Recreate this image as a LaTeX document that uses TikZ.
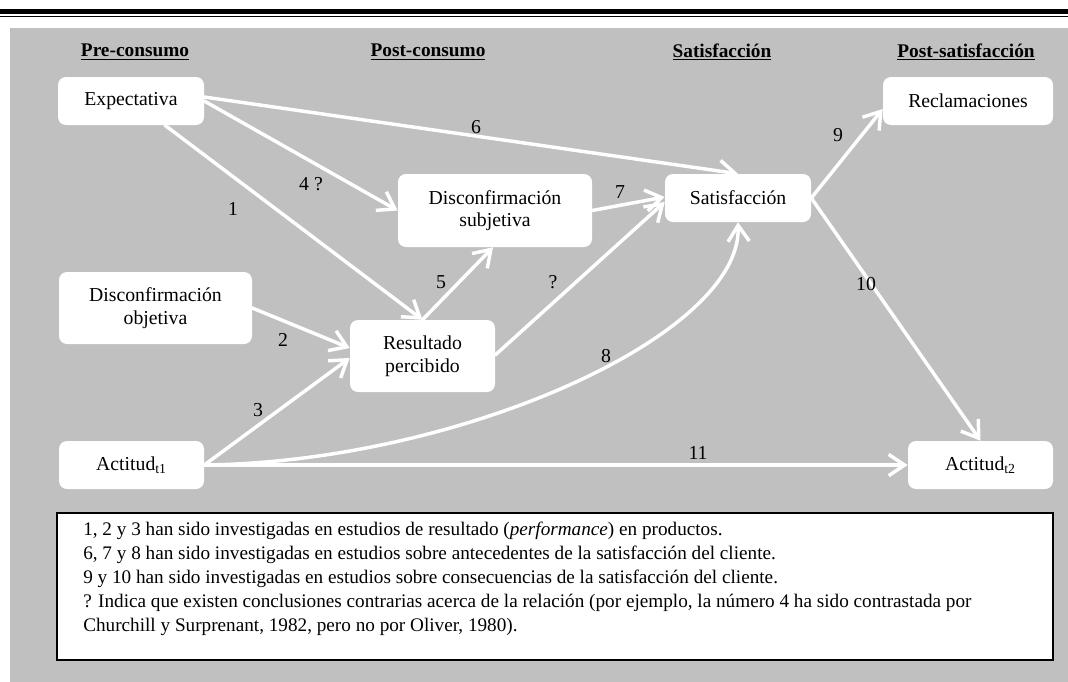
\documentclass[tikz,border=0pt]{standalone}
\usepackage{fontspec}
\setmainfont{Liberation Serif}
\usetikzlibrary{arrows.meta,calc}
\definecolor{panel}{RGB}{192,192,192}
\begin{document}
\begin{tikzpicture}[x=0.75pt,y=-0.75pt,
  box/.style 2 args={draw=none,fill=white,rounded corners=6pt,inner sep=0pt,
    minimum width=#1*0.75pt,minimum height=#2*0.75pt,align=center,
    font=\fontsize{14.8}{17}\selectfont},
  head/.style={font=\fontsize{14.5}{17}\selectfont\bfseries,inner sep=0pt},
  lbl/.style={font=\fontsize{14.8}{17}\selectfont,inner sep=0pt},
  flow/.style={draw=white,line width=2.6pt,line cap=round,
    -{Straight Barb[length=12pt,width=16pt,line width=2.6pt]}}]
% page frame and rules across the top
\useasboundingbox (0,0) rectangle (1068,682);
\fill[black] (0,9) rectangle (1068,14.3);
\fill[black] (0,15.7) rectangle (1068,17.2);
\fill[panel] (10,28) rectangle (1068,682);

% stage headings
\node[head] (h1) at (135,52) {\underline{Pre-consumo}};
\node[head] (h2) at (428,52) {\underline{Post-consumo}};
\node[head] (h3) at (722,52) {\underline{Satisfacción}};
\node[head] (h4) at (966,52) {\underline{Post-satisfacción}};

% constructs
\node[box={146}{48}] (exp)  at (131,101)   {Expectativa};
\node[box={170}{48}] (recl) at (968,101)   {Reclamaciones};
\node[box={194}{73}] (dsub) at (495,210.5) {Disconfirmación\\subjetiva};
\node[box={146}{48}] (sat)  at (738,198)   {Satisfacción};
\node[box={193}{72}] (dobj) at (155.5,308) {Disconfirmación\\objetiva};
\node[box={145}{72}] (res)  at (422.5,356) {Resultado\\percibido};
\node[box={145}{48}] (act1) at (131.5,465) {Actitud\textsubscript{t1}};
\node[box={145}{48}] (act2) at (980.5,465) {Actitud\textsubscript{t2}};

% relations
\draw[flow] ($(exp.east)+(0,-4)$) -- (sat.north);
\draw[flow] (exp.east) -- (dsub.west);
\draw[flow] ($(exp.south)+(34,0)$) -- (res.north);
\draw[flow] (dobj.east) -- ($(res.west)+(0,-8)$);
\draw[flow] (act1.east) -- ($(res.west)+(0,2)$);
\draw[flow] (res.north) -- ($(dsub.south)+(-2,0)$);
\draw[flow] (dsub.east) -- ($(sat.west)+(0,-1)$);
\draw[flow] ($(res.east)+(0,-1)$) -- ($(sat.west)+(0,4)$);
\draw[flow] (act1.east) .. controls (460,462) and (742,335) .. (sat.south);
\draw[flow] (sat.east) -- ($(recl.west)+(0,8)$);
\draw[flow] (sat.east) -- (act2.north);
\draw[flow] (act1.east) -- (act2.west);

% relation numbers
\node[lbl] (l1)  at (233,209) {1};
\node[lbl] (l2)  at (283,340) {2};
\node[lbl] (l3)  at (258,410) {3};
\node[lbl] (l4)  at (311,184) {4 ?};
\node[lbl] (l5)  at (441,282) {5};
\node[lbl] (l6)  at (476,127) {6};
\node[lbl] (l7)  at (620,192) {7};
\node[lbl] (lq)  at (553,282) {?};
\node[lbl] (l8)  at (606,356) {8};
\node[lbl] (l9)  at (838,135) {9};
\node[lbl] (l10) at (866,284) {10};
\node[lbl] (l11) at (698,453) {11};

% notes
\node[draw=black,line width=1.2pt,fill=white,inner sep=0pt,
      minimum width=996*0.75pt,minimum height=147*0.75pt] (notebox) at (555,586.5) {};
\node[anchor=north west,align=left,inner sep=0pt,
      font=\fontsize{14.4}{18}\selectfont] (notes) at (83,522)
{1, 2 y 3 han sido investigadas en estudios de resultado (\textit{performance}) en productos.\\
6, 7 y 8 han sido investigadas en estudios sobre antecedentes de la satisfacción del cliente.\\
9 y 10 han sido investigadas en estudios sobre consecuencias de la satisfacción del cliente.\\
? Indica que existen conclusiones contrarias acerca de la relación (por ejemplo, la número 4 ha sido contrastada por\\
Churchill y Surprenant, 1982, pero no por Oliver, 1980).};
\end{tikzpicture}
\end{document}
